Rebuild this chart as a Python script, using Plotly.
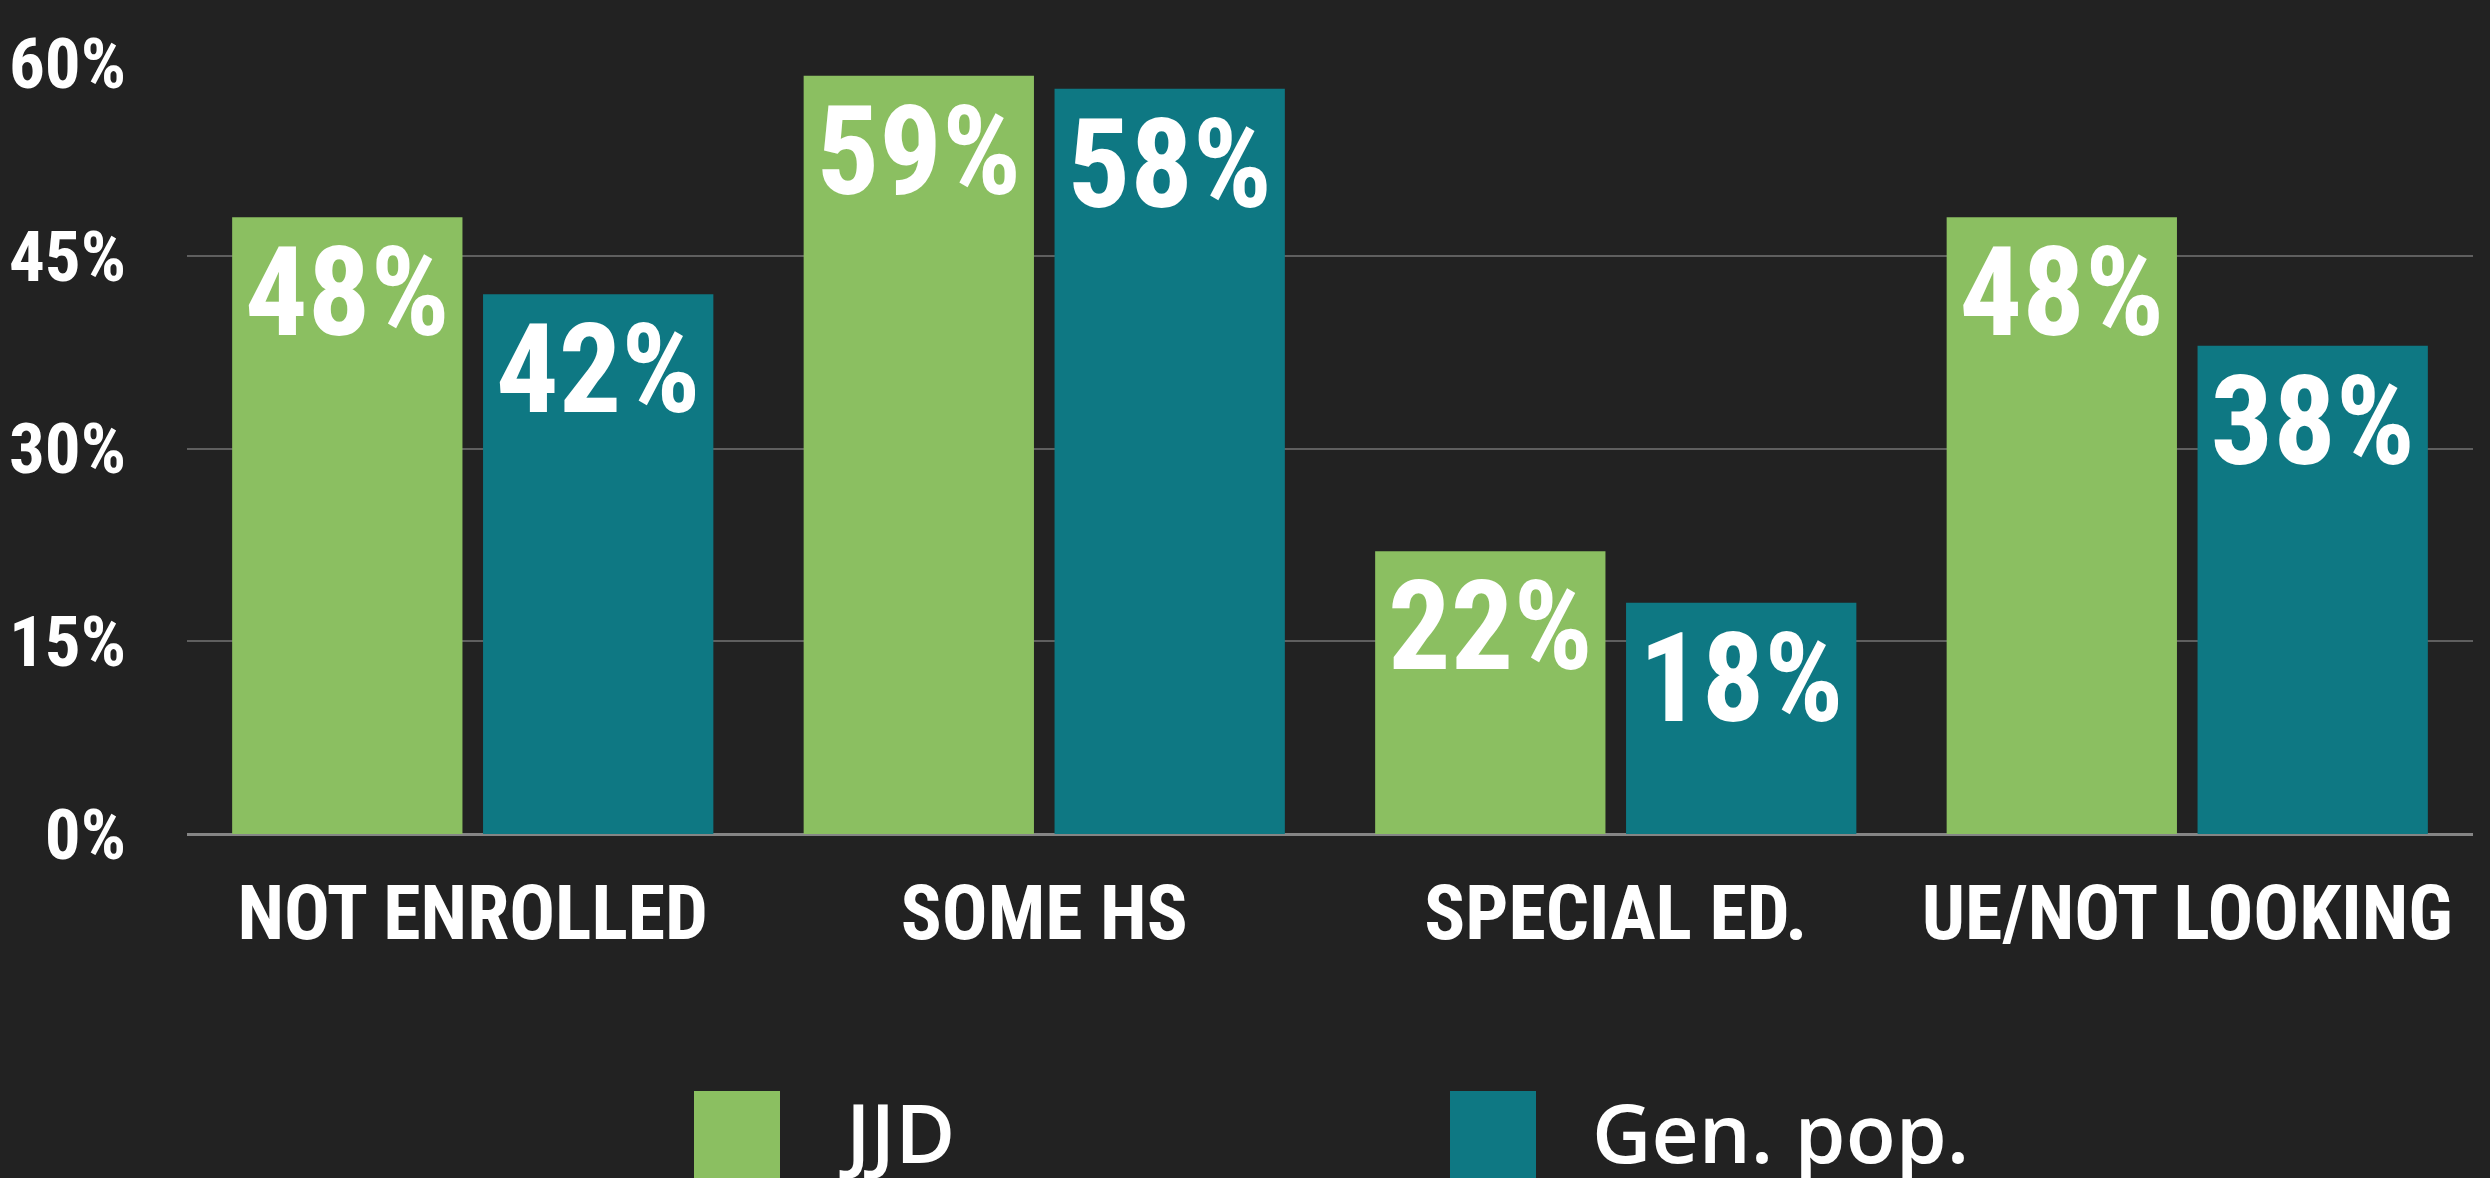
import plotly.graph_objects as go

# Education / employment outcomes, percent of each group
categories = ["NOT ENROLLED", "SOME HS", "SPECIAL ED.", "UE/NOT LOOKING"]
jjd_values = [48, 59, 22, 48]
genpop_values = [42, 58, 18, 38]
series_names = ["JJD", "Gen. pop."]
y_ticks = [0, 15, 30, 45, 60]
y_tick_labels = ["0%", "15%", "30%", "45%", "60%"]

GREEN = "#8BBF61"
TEAL = "#0E7883"
BG = "#222222"
COND = "Roboto Condensed"

W, H = 2490, 1178
M_L, M_R, M_T, M_B = 187, 17, 63, 344

fig = go.Figure()
for name, vals, color in [(series_names[0], jjd_values, GREEN),
                          (series_names[1], genpop_values, TEAL)]:
    fig.add_trace(go.Bar(
        x=categories, y=vals, name=name,
        marker=dict(color=color, line=dict(width=0)),
        texttemplate="%{y}%",
        textposition="inside",
        insidetextanchor="end",
        constraintext="none",
        textangle=0,
        textfont=dict(family=COND, size=124, color="white", weight=700),
        showlegend=False,
    ))

fig.update_layout(
    width=W, height=H,
    margin=dict(l=M_L, r=M_R, t=M_T, b=M_B),
    paper_bgcolor=BG, plot_bgcolor=BG,
    barmode="group", bargap=0.122, bargroupgap=0.082,
    xaxis=dict(
        showgrid=False, zeroline=False, showline=False, automargin=False,
        tickfont=dict(family=COND, size=76, color="white", weight=700),
        ticklabelstandoff=28,
    ),
    yaxis=dict(
        range=[0, 60], automargin=False,
        tickvals=y_ticks, ticktext=y_tick_labels,
        showgrid=True, gridcolor="#5f5f5f", gridwidth=2,
        zeroline=True, zerolinecolor="#858585", zerolinewidth=3,
        showline=False,
        tickfont=dict(family=COND, size=71, color="white", weight=700),
        ticklabelstandoff=60,
    ),
)

# Legend: large colour swatches with labels below the plot area
plot_w = W - M_L - M_R
plot_h = H - M_T - M_B

def px_x(p):
    return (p - M_L) / plot_w

def px_y(p):
    return (H - M_B - p) / plot_h

legend_items = [
    (series_names[0], GREEN, 694, 837),
    (series_names[1], TEAL, 1450, 1590),
]
for label, color, sx, tx in legend_items:
    fig.add_shape(type="rect", xref="paper", yref="paper",
                  x0=px_x(sx), x1=px_x(sx + 86),
                  y0=px_y(1091), y1=px_y(1190),
                  fillcolor=color, line=dict(width=0), layer="above")
    fig.add_annotation(xref="paper", yref="paper",
                       x=px_x(tx), y=px_y(1131),
                       xanchor="left", yanchor="middle",
                       text=label, showarrow=False,
                       font=dict(family="Open Sans", size=82, color="white", weight=600))

fig.write_html("out.html")
